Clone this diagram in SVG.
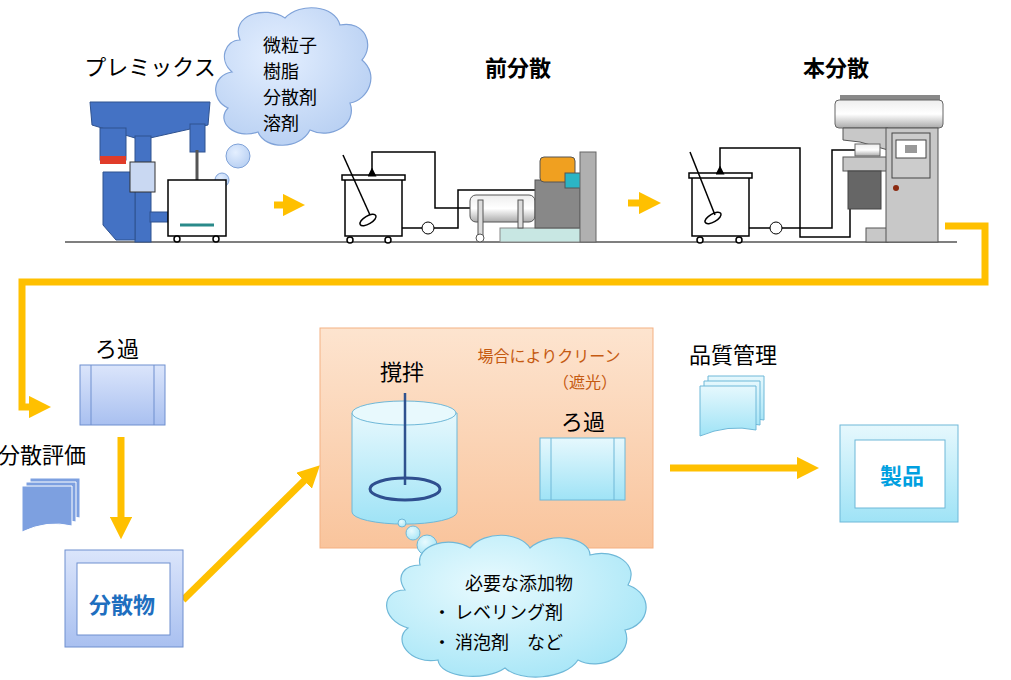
<svg xmlns="http://www.w3.org/2000/svg" width="1011" height="680" viewBox="0 0 1011 680">
<defs>
<linearGradient id="gb" x1="0" y1="0" x2="0" y2="1"><stop offset="0" stop-color="#dbe5fb"/><stop offset="1" stop-color="#a9c0f0"/></linearGradient>
<linearGradient id="gc" x1="0" y1="0" x2="0" y2="1"><stop offset="0" stop-color="#e6f8fd"/><stop offset="1" stop-color="#9fe3f6"/></linearGradient>
<linearGradient id="go" x1="0" y1="0" x2="0" y2="1"><stop offset="0" stop-color="#fde4cf"/><stop offset="1" stop-color="#f9c49c"/></linearGradient>
<linearGradient id="gg" x1="0" y1="0" x2="0" y2="1"><stop offset="0" stop-color="#eee"/><stop offset="0.5" stop-color="#fff"/><stop offset="1" stop-color="#aaa"/></linearGradient>
<radialGradient id="cl" cx="0.4" cy="0.35" r="0.7"><stop offset="0" stop-color="#e4efff"/><stop offset="1" stop-color="#b7cff2"/></radialGradient>
<radialGradient id="cl2" cx="0.4" cy="0.35" r="0.7"><stop offset="0" stop-color="#e8fafe"/><stop offset="1" stop-color="#a7e6f7"/></radialGradient>
<marker id="ah" viewBox="0 0 10 10" refX="5" refY="5" markerWidth="3.2" markerHeight="3.2" orient="auto"><path d="M0,0 L10,5 L0,10 z" fill="#FFC000"/></marker>
<marker id="sa" viewBox="0 0 10 10" refX="5" refY="5" markerWidth="6" markerHeight="6" orient="auto"><path d="M0,0 L10,5 L0,10 z" fill="#000"/></marker>
</defs>
<style>
.t{font-family:"Noto Sans CJK JP","Noto Sans",sans-serif;fill:#000}
.ln{fill:none;stroke:#000;stroke-width:1.5}
.tank{fill:#fff;stroke:#000;stroke-width:1.5}
.y{fill:none;stroke:#FFC000;stroke-width:7}
.blue{fill:#4472C4;stroke:#2f528f;stroke-width:1}
.gray{fill:#c8c8c8;stroke:#555;stroke-width:1}
</style>
<rect width="1011" height="680" fill="#fff"/>

<g id="labels">
<text class="t" x="150" y="75" font-size="22" text-anchor="middle">プレミックス</text>
<text class="t" x="518" y="76" font-size="22" text-anchor="middle" font-weight="bold">前分散</text>
<text class="t" x="836" y="76" font-size="22" text-anchor="middle" font-weight="bold">本分散</text>
</g>

<g id="cloud-top">
<path d="M240,40 C230,15 265,5 285,18 C300,2 335,5 340,25 C365,20 375,45 362,60 C380,75 368,100 350,103 C358,125 330,140 310,130 C300,150 265,150 258,132 C235,140 215,122 228,108 C210,100 212,75 232,72 C218,60 225,40 240,40 Z" fill="url(#cl)" stroke="#7fa2d8" stroke-width="1.2"/>
<circle cx="238" cy="156" r="12" fill="url(#cl)" stroke="#7fa2d8"/>
<circle cx="222" cy="180" r="7" fill="url(#cl)" stroke="#7fa2d8"/>
<circle cx="210" cy="198" r="4" fill="url(#cl)" stroke="#7fa2d8"/>
<text class="t" x="263" y="52" font-size="18">微粒子</text>
<text class="t" x="263" y="78" font-size="18">樹脂</text>
<text class="t" x="263" y="104" font-size="18">分散剤</text>
<text class="t" x="263" y="130" font-size="18">溶剤</text>
</g>

<line x1="65" y1="242" x2="957" y2="242" stroke="#555" stroke-width="1.5"/>

<g id="premix">
<polygon points="90,102 210,102 208,125 150,138 135,138 92,125" class="blue"/>
<rect x="135" y="136" width="16" height="106" class="blue"/>
<rect x="100" y="128" width="26" height="32" class="blue"/>
<rect x="100" y="156" width="26" height="8" fill="#e03c2a"/>
<path d="M103,172 L135,172 L135,240 L116,240 L103,225 Z" class="blue"/>
<rect x="130" y="162" width="25" height="30" fill="#c9d8f2" stroke="#333"/>
<rect x="150" y="212" width="18" height="10" class="blue"/>
<rect x="190" y="124" width="15" height="28" class="blue"/>
<line x1="197" y1="150" x2="197" y2="225" stroke="#555" stroke-width="3"/>
<rect x="168" y="180" width="58" height="56" class="tank"/>
<path d="M180,225 L214,225" stroke="#2a8a8a" stroke-width="3"/>
<circle cx="177" cy="239" r="3" class="tank"/><circle cx="216" cy="239" r="3" class="tank"/>
</g>

<g id="predisp">
<rect x="345" y="178" width="57" height="58" class="tank"/>
<rect x="342" y="175" width="63" height="5" class="tank"/>
<line x1="343" y1="155" x2="370" y2="215" class="ln"/>
<ellipse cx="368" cy="220" rx="9" ry="4" class="ln" transform="rotate(-30 368 220)"/>
<circle cx="350" cy="240" r="3" class="tank"/><circle cx="388" cy="240" r="3" class="tank"/>
<polyline points="372,172 372,152 435,152 435,208 470,208" class="ln" marker-start="url(#sa)"/>
<polyline points="402,228 458,228 458,190 540,190" class="ln"/>
<circle cx="428" cy="228" r="6" fill="#fff" stroke="#000"/>
<rect x="500" y="228" width="85" height="14" fill="#c8e7e3" stroke="#888"/>
<rect x="470" y="195" width="65" height="27" rx="6" fill="url(#gg)" stroke="#555"/>
<rect x="478" y="200" width="5" height="38" fill="#ddd" stroke="#555"/>
<rect x="518" y="200" width="5" height="28" fill="#ddd" stroke="#555"/>
<circle cx="480" cy="238" r="4" fill="#fff" stroke="#555"/>
<rect x="535" y="180" width="45" height="48" fill="#888" stroke="#555"/>
<rect x="540" y="157" width="35" height="25" rx="4" fill="#f0a020" stroke="#555"/>
<rect x="565" y="173" width="20" height="15" fill="#2bb5c5" stroke="#555"/>
<rect x="580" y="152" width="16" height="90" fill="#b0b0b0" stroke="#666"/>
</g>

<g id="maindisp">
<rect x="692" y="176" width="57" height="60" class="tank"/>
<rect x="689" y="173" width="63" height="5" class="tank"/>
<line x1="690" y1="152" x2="715" y2="215" class="ln"/>
<ellipse cx="713" cy="218" rx="9" ry="4" class="ln" transform="rotate(-30 713 218)"/>
<circle cx="700" cy="240" r="3" class="tank"/><circle cx="739" cy="240" r="3" class="tank"/>
<polyline points="720,170 720,148 800,148 800,237 850,237 850,200" class="ln" marker-start="url(#sa)"/>
<polyline points="749,228 832,228 832,150 858,150" class="ln"/>
<circle cx="776" cy="228" r="6" fill="#fff" stroke="#000"/>
<rect x="840" y="95" width="100" height="8" fill="#888"/>
<rect x="835" y="100" width="108" height="28" rx="4" fill="url(#gg)" stroke="#666"/>
<polygon points="843,128 888,128 888,150 860,142 843,140" class="gray"/>
<rect x="855" y="144" width="25" height="12" fill="url(#gg)" stroke="#666"/>
<rect x="843" y="157" width="45" height="14" class="gray"/>
<rect x="848" y="171" width="33" height="38" fill="#666" stroke="#444"/>
<rect x="866" y="228" width="22" height="14" class="gray"/>
<rect x="886" y="128" width="52" height="114" class="gray"/>
<rect x="892" y="133" width="38" height="45" fill="#ccc" stroke="#444"/>
<rect x="896" y="140" width="30" height="18" fill="#fff" stroke="#444"/>
<rect x="905" y="145" width="12" height="8" fill="#999"/>
<circle cx="896" cy="188" r="3" fill="#8b2a10"/>
</g>

<g id="connectors">
<line x1="274" y1="205" x2="294" y2="205" class="y" stroke-width="6" marker-end="url(#ah)"/>
<line x1="628" y1="203" x2="650" y2="203" class="y" stroke-width="6" marker-end="url(#ah)"/>
<polyline points="945,226 985,226 985,282 22,282 22,407 40,407" class="y" marker-end="url(#ah)"/>
<line x1="121" y1="437" x2="121" y2="528" class="y" marker-end="url(#ah)"/>
<line x1="183" y1="600" x2="312" y2="473" class="y" marker-end="url(#ah)"/>
<rect x="485" y="455" width="32" height="28" fill="#fff"/>
<line x1="488" y1="469" x2="503" y2="469" class="y" stroke-width="7" marker-end="url(#ah)"/>
<line x1="670" y1="468" x2="808" y2="468" class="y" marker-end="url(#ah)"/>
</g>

<g id="filter1">
<text class="t" x="117" y="357" font-size="22" text-anchor="middle">ろ過</text>
<rect x="80" y="365" width="85" height="60" fill="url(#gb)" stroke="#6f8fcf"/>
<line x1="91" y1="365" x2="91" y2="425" stroke="#6f8fcf"/><line x1="154" y1="365" x2="154" y2="425" stroke="#6f8fcf"/>
</g>

<g id="eval">
<text class="t" x="-2" y="463" font-size="22">分散評価</text>
<path d="M30,478 h50 v40 q-25,-6 -50,6 z" fill="#7da0e0" stroke="#fff"/>
<path d="M26,482 h50 v40 q-25,-6 -50,6 z" fill="#7da0e0" stroke="#fff"/>
<path d="M22,486 h50 v40 q-25,-6 -50,6 z" fill="#7da0e0" stroke="#fff"/>
</g>

<g id="dispersion">
<rect x="65" y="550" width="118" height="97" fill="url(#gb)" stroke="#6f8fcf"/>
<rect x="77" y="563" width="93" height="72" fill="#fff" stroke="#6f8fcf"/>
<text x="122" y="613" font-size="22" text-anchor="middle" font-weight="bold" fill="#1f6fbf" font-family="Noto Sans CJK JP,sans-serif">分散物</text>
</g>

<g id="panel">
<rect x="320" y="328" width="333" height="220" fill="url(#go)" stroke="#f4b183"/>
<text x="549" y="362" font-size="16" text-anchor="middle" fill="#c55a11" font-family="Noto Sans CJK JP,sans-serif">場合によりクリーン</text>
<text x="585" y="388" font-size="16" text-anchor="middle" fill="#c55a11" font-family="Noto Sans CJK JP,sans-serif">（遮光）</text>
<text class="t" x="402" y="380" font-size="22" text-anchor="middle">撹拌</text>
<path d="M352,413 V512 A52,12 0 0 0 457,512 V413 Z" fill="url(#gc)" stroke="#6fb8d8"/>
<ellipse cx="404" cy="413" rx="52" ry="12" fill="#e8f9fd" stroke="#6fb8d8"/>
<line x1="405" y1="393" x2="405" y2="485" stroke="#2f528f" stroke-width="2.5"/>
<ellipse cx="405" cy="489" rx="35" ry="11" fill="none" stroke="#2f4f8f" stroke-width="3"/>
<text class="t" x="583" y="430" font-size="22" text-anchor="middle">ろ過</text>
<rect x="540" y="438" width="85" height="62" fill="url(#gc)" stroke="#6fb8d8"/>
<line x1="551" y1="438" x2="551" y2="500" stroke="#6fb8d8"/><line x1="614" y1="438" x2="614" y2="500" stroke="#6fb8d8"/>
</g>

<g id="quality">
<text class="t" x="733" y="363" font-size="22" text-anchor="middle">品質管理</text>
<path d="M708,376 h56 v44 q-28,-6 -56,6 z" fill="url(#gc)" stroke="#6fb8d8"/>
<path d="M704,381 h56 v44 q-28,-6 -56,6 z" fill="url(#gc)" stroke="#6fb8d8"/>
<path d="M700,386 h56 v44 q-28,-6 -56,6 z" fill="url(#gc)" stroke="#6fb8d8"/>
</g>

<g id="product">
<rect x="840" y="425" width="118" height="97" fill="url(#gc)" stroke="#6fb8d8"/>
<rect x="855" y="440" width="90" height="68" fill="#fff" stroke="#6fb8d8"/>
<text x="902" y="484" font-size="22" text-anchor="middle" font-weight="bold" fill="#00a0e0" font-family="Noto Sans CJK JP,sans-serif">製品</text>
</g>

<g id="cloud-bottom">
<circle cx="402" cy="523" r="4" fill="url(#cl2)" stroke="#6fb8d8"/>
<circle cx="413" cy="533" r="7" fill="url(#cl2)" stroke="#6fb8d8"/>
<circle cx="427" cy="545" r="10" fill="url(#cl2)" stroke="#6fb8d8"/>
<path d="M420,565 C415,545 450,535 470,548 C485,530 520,532 530,548 C550,530 590,538 590,555 C615,548 640,565 628,585 C655,595 650,625 625,630 C635,655 600,672 578,660 C565,680 520,682 505,668 C485,682 440,678 438,660 C410,665 392,640 408,628 C380,620 380,590 405,590 C395,575 405,565 420,565 Z" fill="url(#cl2)" stroke="#6fb8d8" stroke-width="1.2"/>
<text class="t" x="519" y="590" font-size="18" text-anchor="middle">必要な添加物</text>
<text class="t" x="433" y="619" font-size="18">・ レベリング剤</text>
<text class="t" x="433" y="649" font-size="18">・ 消泡剤　など</text>
</g>
</svg>
